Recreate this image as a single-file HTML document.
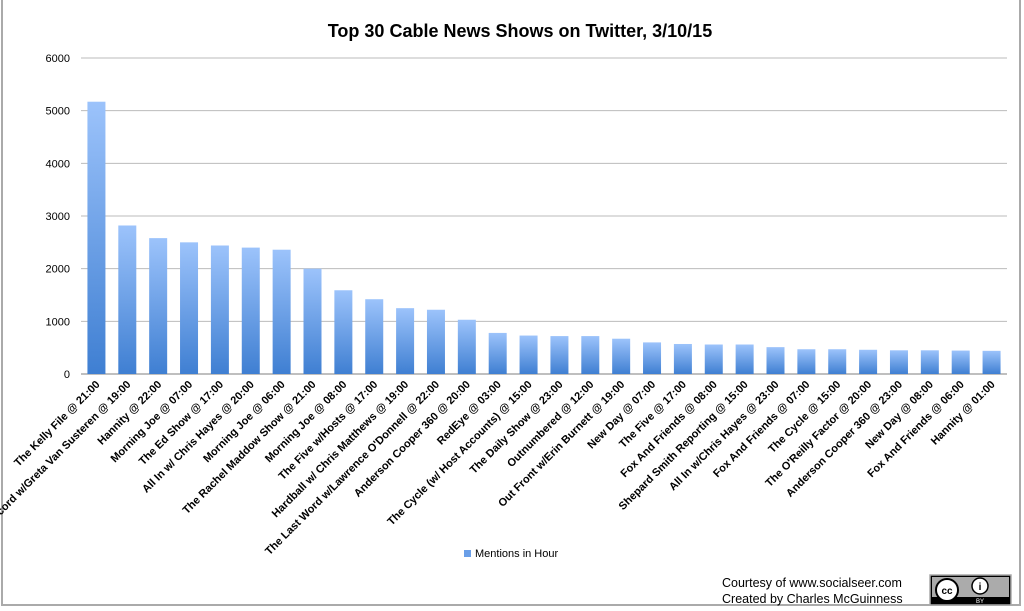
<!DOCTYPE html>
<html><head><meta charset="utf-8"><style>
body{margin:0;background:#fff;}
#wrap{position:relative;width:1024px;height:611px;overflow:hidden;font-family:"Liberation Sans",sans-serif;}
#frame{position:absolute;left:1px;top:-2px;width:1020px;height:608px;border:2px solid #aaa;box-sizing:border-box;}
</style></head><body>
<div id="wrap">
<div id="frame"></div>
<svg id="chart" width="1024" height="611" style="position:absolute;left:0;top:0">
<defs><linearGradient id="g" x1="0" y1="0" x2="0" y2="1"><stop offset="0" stop-color="#9cc3fb"/><stop offset="1" stop-color="#3f7fd2"/></linearGradient></defs>
<text x="520" y="37" text-anchor="middle" font-size="18" font-weight="bold" fill="#000">Top 30 Cable News Shows on Twitter, 3/10/15</text>
<g id="grid"></g><g id="bars"></g><g id="xlabels"></g>
<rect x="464" y="550" width="7" height="7" fill="#6a9fe8"/>
<text x="475" y="557" font-size="11" fill="#000">Mentions in Hour</text>
<text x="722" y="587" font-size="12.5" fill="#000">Courtesy of www.socialseer.com</text>
<text x="722" y="603" font-size="12.5" fill="#000">Created by Charles McGuinness</text>
<g>
<rect x="930" y="575" width="81" height="30" fill="#000" stroke="#aaa" stroke-width="1.5"/>
<rect x="932" y="577" width="77" height="20" fill="#ababab"/>
<circle cx="947" cy="590" r="11" fill="#fff" stroke="#000" stroke-width="2"/>
<text x="947" y="594" font-size="10" font-weight="bold" text-anchor="middle" fill="#000">cc</text>
<circle cx="980" cy="586" r="8" fill="#fff" stroke="#000" stroke-width="1.5"/>
<text x="980" y="590" font-size="10" font-weight="bold" text-anchor="middle" fill="#000">i</text>
<text x="980" y="603" font-size="6" text-anchor="middle" fill="#fff">BY</text>
</g>
</svg>
<script>
const categories=["The Kelly File @ 21:00","On the Record w/Greta Van Susteren @ 19:00","Hannity @ 22:00","Morning Joe @ 07:00","The Ed Show @ 17:00","All In w/ Chris Hayes @ 20:00","Morning Joe @ 06:00","The Rachel Maddow Show @ 21:00","Morning Joe @ 08:00","The Five w/Hosts @ 17:00","Hardball w/ Chris Matthews @ 19:00","The Last Word w/Lawrence O'Donnell @ 22:00","Anderson Cooper 360 @ 20:00","RedEye @ 03:00","The Cycle (w/ Host Accounts) @ 15:00","The Daily Show @ 23:00","Outnumbered @ 12:00","Out Front w/Erin Burnett @ 19:00","New Day @ 07:00","The Five @ 17:00","Fox And Friends @ 08:00","Shepard Smith Reporting @ 15:00","All In w/Chris Hayes @ 23:00","Fox And Friends @ 07:00","The Cycle @ 15:00","The O'Reilly Factor @ 20:00","Anderson Cooper 360 @ 23:00","New Day @ 08:00","Fox And Friends @ 06:00","Hannity @ 01:00"];
const mentions=[5170,2820,2580,2500,2440,2400,2360,2000,1590,1420,1250,1220,1030,780,730,720,720,670,600,570,560,560,510,470,470,460,450,450,445,440];
const yTicks=[0,1000,2000,3000,4000,5000,6000];
const NS="http://www.w3.org/2000/svg";
const left=81,right=1007,y0=374,yTop=58,ymax=6000;
const slot=(right-left)/categories.length,bw=18;
const y=v=>y0-(v/ymax)*(y0-yTop);
const xc=i=>left+slot*(i+0.5);
const grid=document.getElementById('grid'),bars=document.getElementById('bars'),xl=document.getElementById('xlabels');
yTicks.forEach(t=>{
 const l=document.createElementNS(NS,'line');
 l.setAttribute('x1',left);l.setAttribute('x2',right);l.setAttribute('y1',y(t));l.setAttribute('y2',y(t));
 l.setAttribute('stroke',t===0?'#999':'#bbb');l.setAttribute('stroke-width',t===0?1.3:1);
 
 
 grid.appendChild(l);
 const tx=document.createElementNS(NS,'text');
 tx.setAttribute('x',left-11);tx.setAttribute('y',y(t)+4);tx.setAttribute('text-anchor','end');tx.setAttribute('font-size','11');
 tx.textContent=t;
 
 
 grid.appendChild(tx);
});
mentions.forEach((v,i)=>{
 const r=document.createElementNS(NS,'rect');
 r.setAttribute('x',xc(i)-bw/2);r.setAttribute('y',y(v));r.setAttribute('width',bw);r.setAttribute('height',y0-y(v));r.setAttribute('fill','url(#g)');
 
 
 bars.appendChild(r);
});
categories.forEach((c,i)=>{
 const tx=document.createElementNS(NS,'text');
 const x=xc(i)+4,yy=385;
 tx.setAttribute('x',x);tx.setAttribute('y',yy);tx.setAttribute('text-anchor','end');tx.setAttribute('font-size','11');tx.setAttribute('font-weight','bold');
 tx.setAttribute('transform','rotate(-45 '+x+' '+yy+')');
 tx.textContent=c;
 
 
 xl.appendChild(tx);
});
</script>
</div>
</body></html>
